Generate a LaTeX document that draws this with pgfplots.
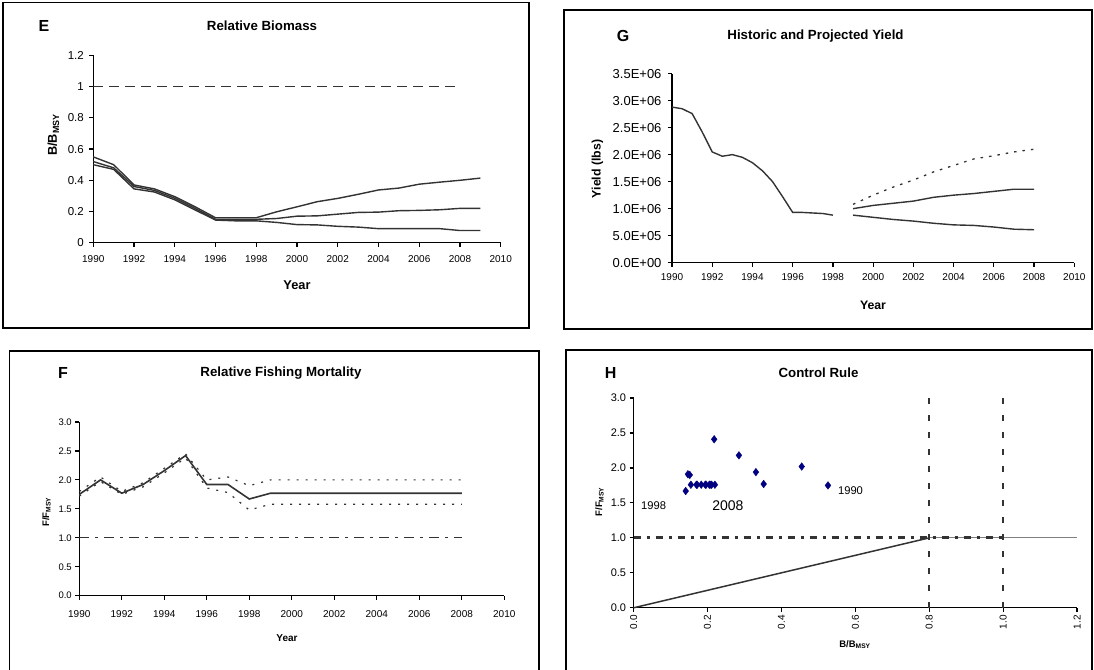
\documentclass[border=0pt]{standalone}
\usepackage{pgfplots}
\pgfplotsset{compat=1.18}
\usepackage{fontspec}
\setmainfont{Liberation Sans}
\definecolor{ln}{HTML}{333333}
\definecolor{navy}{HTML}{000080}
\newcommand{\fs}[1]{\fontsize{#1}{#1}\selectfont}
\pgfplotsset{
  panel/.style={
    anchor=south west, scale only axis, clip=false,
    axis x line*=bottom, axis y line*=left,
    axis line style={black, line width=1.2pt},
    tick align=outside, major tick length=4pt,
    tick style={black, line width=1.2pt},
    /pgf/number format/assume math mode=true,
    /pgf/number format/1000 sep={},
  }
}
\begin{document}
\begin{tikzpicture}
\useasboundingbox (0pt,0pt) rectangle (1094pt,669pt);
% panel boxes
\draw[line width=1.5pt] (2.8pt,666.3pt) rectangle (529pt,341pt);
\draw[line width=1.5pt] (564pt,659pt) rectangle (1092pt,340pt);
\draw[line width=1.5pt] (9.3pt,-5pt) -- (9.3pt,318.1pt) -- (539pt,318.1pt) -- (539pt,-5pt);
\draw[line width=1.5pt] (566pt,-5pt) -- (566pt,318.8pt) -- (1092pt,318.8pt) -- (1092pt,-5pt);

% ---------------- E ----------------
\node[font=\bfseries\fs{16}] at (44pt,643pt) {E};
\node[font=\bfseries\fs{13.3}] at (262pt,643pt) {Relative Biomass};
\node[font=\bfseries\fs{12.8}, rotate=90] at (53.4pt,534pt) {B/B\textsubscript{MSY}};
\node[font=\bfseries\fs{12.8}] at (297pt,383.5pt) {Year};
\begin{axis}[panel, at={(93.3pt,426.3pt)}, width=407.4pt, height=187.2pt,
  xmin=1990, xmax=2010, ymin=0, ymax=1.2,
  xtick={1990,1992,...,2010}, ytick={0,0.2,0.4,0.6,0.8,1,1.2},
  xticklabel style={font=\fs{10}, yshift=-5pt}, yticklabel style={font=\fs{11.5}, xshift=-2pt}]
\addplot[ln, line width=1.5pt, dash pattern=on 10pt off 6pt] coordinates {(1990,1) (2008,1)};
\addplot[ln, line width=1.4pt] coordinates {
(1990,0.55) (1991,0.50) (1992,0.37) (1993,0.345) (1994,0.295) (1995,0.23) (1996,0.16) (1997,0.16) (1998,0.16)
(1999,0.198) (2000,0.23) (2001,0.263) (2002,0.284) (2003,0.31) (2004,0.338) (2005,0.35) (2006,0.375) (2007,0.388) (2008,0.40) (2009,0.414)};
\addplot[ln, line width=1.4pt] coordinates {
(1990,0.52) (1991,0.48) (1992,0.36) (1993,0.335) (1994,0.285) (1995,0.22) (1996,0.15) (1997,0.15) (1998,0.15)
(1999,0.155) (2000,0.17) (2001,0.172) (2002,0.183) (2003,0.194) (2004,0.196) (2005,0.205) (2006,0.207) (2007,0.211) (2008,0.22) (2009,0.22)};
\addplot[ln, line width=1.4pt] coordinates {
(1990,0.50) (1991,0.47) (1992,0.345) (1993,0.325) (1994,0.275) (1995,0.21) (1996,0.145) (1997,0.14) (1998,0.14)
(1999,0.13) (2000,0.116) (2001,0.114) (2002,0.105) (2003,0.10) (2004,0.09) (2005,0.09) (2006,0.09) (2007,0.09) (2008,0.078) (2009,0.078)};
\end{axis}

% ---------------- G ----------------
\node[font=\bfseries\fs{16}] at (623pt,632.5pt) {G};
\node[font=\bfseries\fs{13.3}] at (815.5pt,632.5pt) {Historic and Projected Yield};
\node[font=\bfseries\fs{12.3}, rotate=90] at (597.5pt,500pt) {Yield (lbs)};
\node[font=\bfseries\fs{12.3}] at (873pt,364pt) {Year};
\begin{axis}[panel, at={(672pt,406.3pt)}, width=402.3pt, height=189.1pt,
  xmin=1990, xmax=2010, ymin=0, ymax=3500000, scaled y ticks=false,
  xtick={1990,1992,...,2010},
  ytick={0,500000,1000000,1500000,2000000,2500000,3000000,3500000},
  yticklabels={0.0E+00,5.0E+05,1.0E+06,1.5E+06,2.0E+06,2.5E+06,3.0E+06,3.5E+06},
  xticklabel style={font=\fs{10}, yshift=-3pt}, yticklabel style={font=\fs{13}, xshift=-3pt}]
\addplot[ln, line width=1.4pt] coordinates {
(1990,2880000) (1990.5,2850000) (1991,2760000) (1991.5,2420000) (1992,2050000) (1992.5,1970000) (1993,2000000)
(1993.5,1950000) (1994,1850000) (1994.5,1700000) (1995,1500000) (1995.5,1220000) (1996,930000) (1996.5,930000)
(1997,920000) (1997.5,910000) (1998,880000)};
\addplot[ln, line width=1.3pt, dash pattern=on 2.5pt off 6pt] coordinates {
(1999,1080000) (2000,1250000) (2001,1400000) (2002,1530000) (2003,1680000) (2004,1800000) (2005,1920000) (2006,1980000) (2007,2050000) (2008,2100000)};
\addplot[ln, line width=1.4pt] coordinates {
(1999,1000000) (2000,1060000) (2001,1100000) (2002,1140000) (2003,1210000) (2004,1250000) (2005,1280000) (2006,1320000) (2007,1360000) (2008,1360000)};
\addplot[ln, line width=1.4pt] coordinates {
(1999,880000) (2000,840000) (2001,800000) (2002,770000) (2003,730000) (2004,700000) (2005,690000) (2006,660000) (2007,620000) (2008,610000)};
\end{axis}

% ---------------- F ----------------
\node[font=\bfseries\fs{16}] at (63pt,296pt) {F};
\node[font=\bfseries\fs{13.3}] at (281pt,296pt) {Relative Fishing Mortality};
\node[font=\bfseries\fs{9.5}, rotate=90] at (46.5pt,157pt) {F/F\textsubscript{MSY}};
\node[font=\bfseries\fs{10}] at (287pt,31pt) {Year};
\begin{axis}[panel, at={(79.3pt,73.3pt)}, width=425pt, height=173.7pt,
  xmin=1990, xmax=2010, ymin=0, ymax=3,
  xtick={1990,1992,...,2010}, ytick={0,0.5,1,1.5,2,2.5,3},
  xticklabel style={font=\fs{10}, yshift=-7pt},
  yticklabel style={font=\fs{9.5}, /pgf/number format/.cd, fixed, fixed zerofill, precision=1}]
\addplot[ln, line width=1.3pt, dash pattern=on 10pt off 6pt on 3pt off 6pt] coordinates {(1990,1) (2008,1)};
\addplot[ln, line width=1.2pt, dash pattern=on 2pt off 7pt] coordinates {
(1990,1.80) (1991,2.05) (1992,1.80) (1993,1.95) (1994,2.20) (1995,2.45) (1996,2.00) (1997,2.05) (1998,1.90)
(1999,2.00) (2000,2.00) (2001,2.00) (2002,2.00) (2003,2.00) (2004,2.00) (2005,2.00) (2006,2.00) (2007,2.00) (2008,2.00)};
\addplot[ln, line width=1.2pt, dash pattern=on 2pt off 7pt] coordinates {
(1990,1.72) (1991,1.97) (1992,1.75) (1993,1.88) (1994,2.12) (1995,2.38) (1996,1.86) (1997,1.78) (1998,1.48)
(1999,1.58) (2000,1.58) (2001,1.58) (2002,1.58) (2003,1.58) (2004,1.58) (2005,1.58) (2006,1.58) (2007,1.58) (2008,1.58)};
\addplot[ln, line width=1.6pt] coordinates {
(1990,1.75) (1991,2.00) (1992,1.77) (1993,1.92) (1994,2.16) (1995,2.42) (1996,1.92) (1997,1.92) (1998,1.67)
(1999,1.77) (2000,1.77) (2001,1.77) (2002,1.77) (2003,1.77) (2004,1.77) (2005,1.77) (2006,1.77) (2007,1.77) (2008,1.77)};
\end{axis}

% ---------------- H ----------------
\node[font=\bfseries\fs{16}] at (610.7pt,296pt) {H};
\node[font=\bfseries\fs{13.3}] at (818.5pt,296pt) {Control Rule};
\node[font=\bfseries\fs{9.5}, rotate=90] at (599.4pt,167.3pt) {F/F\textsubscript{MSY}};
\node[font=\bfseries\fs{9.5}] at (855pt,24.2pt) {B/B\textsubscript{MSY}};
\begin{axis}[panel, at={(633.6pt,61.2pt)}, width=443.4pt, height=209.8pt,
  xmin=0, xmax=1.2, ymin=0, ymax=3,
  xtick={0,0.2,0.4,0.6,0.8,1,1.2}, ytick={0,0.5,1,1.5,2,2.5,3},
  xticklabel style={font=\fs{10}, rotate=90, anchor=east, /pgf/number format/.cd, fixed, fixed zerofill, precision=1},
  yticklabel style={font=\fs{11}, /pgf/number format/.cd, fixed, fixed zerofill, precision=1}]
\addplot[gray, line width=0.8pt] coordinates {(0.8,1) (1.2,1)};
\addplot[ln, line width=3pt, dash pattern=on 7pt off 6pt on 3pt off 6pt] coordinates {(0,1) (1.0,1)};
\addplot[ln, line width=1.5pt] coordinates {(0,0) (0.8,1)};
\addplot[ln, line width=2pt, dash pattern=on 6pt off 11pt] coordinates {(0.8,0) (0.8,3)};
\addplot[ln, line width=2pt, dash pattern=on 6pt off 11pt] coordinates {(1.0,0) (1.0,3)};
\addplot[only marks, mark=diamond*, mark size=3.8pt, navy, mark options={fill=navy, draw=navy}] coordinates {
(0.526,1.75) (0.455,2.02) (0.352,1.77) (0.331,1.94) (0.285,2.18) (0.218,2.41) (0.147,1.91) (0.152,1.90) (0.141,1.67)
(0.155,1.76) (0.170,1.76) (0.172,1.76) (0.183,1.76) (0.194,1.76) (0.196,1.76) (0.205,1.76) (0.207,1.76) (0.211,1.76) (0.220,1.76)};
\node[font=\fs{11.2}] at (axis cs:0.587,1.676) {1990};
\node[font=\fs{11.2}] at (axis cs:0.054,1.456) {1998};
\node[font=\fs{14}] at (axis cs:0.255,1.456) {2008};
\end{axis}
\end{tikzpicture}
\end{document}
